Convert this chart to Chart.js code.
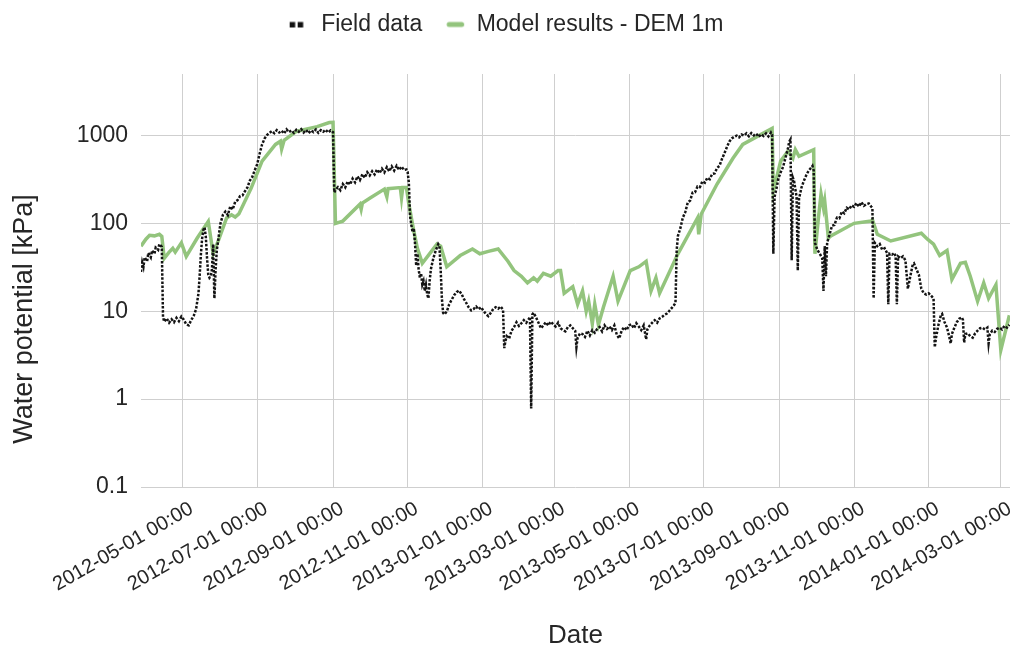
<!DOCTYPE html>
<html>
<head>
<meta charset="utf-8">
<script src="https://cdn.jsdelivr.net/npm/chart.js@4.4.1/dist/chart.umd.min.js"></script>
<style>
  html, body { margin: 0; padding: 0; background: #ffffff; }
  #c { display: block; }
</style>
</head>
<body>
<canvas id="c" width="1010" height="651"></canvas>
<script>
// ---- Measured soil water potential (kPa), [date, value] ----
const field2012 = [
  ["2012-03-28",28],["2012-03-29",36],["2012-03-30",32],["2012-03-31",41],["2012-04-02",37],["2012-04-03",46],
  ["2012-04-05",41],["2012-04-06",49],["2012-04-08",45],["2012-04-09",53],["2012-04-11",50],["2012-04-12",58],
  ["2012-04-14",54],["2012-04-15",8.6],["2012-04-16",7.6],["2012-04-18",8.3],["2012-04-20",7.4],["2012-04-22",8.1],
  ["2012-04-24",7.5],["2012-04-26",8.4],["2012-04-28",7.7],["2012-04-30",8.7],["2012-05-02",8.0],["2012-05-04",7.1],
  ["2012-05-06",6.9],["2012-05-08",7.9],["2012-05-10",8.8],["2012-05-12",10.5],["2012-05-14",16],["2012-05-15",26],
  ["2012-05-16",45],["2012-05-17",68],["2012-05-18",84],["2012-05-19",90],["2012-05-20",70],["2012-05-21",40],
  ["2012-05-22",26],["2012-05-23",24],["2012-05-24",25],["2012-05-25",30],["2012-05-26",58],["2012-05-27",14],
  ["2012-05-28",30],["2012-05-29",50],["2012-05-30",62],["2012-05-31",80],["2012-06-01",100],["2012-06-03",125],
  ["2012-06-05",136],["2012-06-07",124],["2012-06-09",156],["2012-06-11",144],["2012-06-13",176],["2012-06-15",184],
  ["2012-06-17",204],["2012-06-19",208],["2012-06-21",232],["2012-06-23",256],["2012-06-25",306],["2012-06-27",338],
  ["2012-06-29",402],["2012-07-01",470],["2012-07-03",620],["2012-07-05",790],["2012-07-07",920],["2012-07-09",1010],
  ["2012-07-11",1070],["2012-07-13",1120],["2012-07-15",1060],["2012-07-17",1150],["2012-07-19",1080],["2012-07-21",1130],
  ["2012-07-23",1050],["2012-07-25",1170],["2012-07-27",1090],["2012-07-29",1140],["2012-07-31",1070],["2012-08-02",1160],
  ["2012-08-04",1100],["2012-08-06",1180],["2012-08-08",1080],["2012-08-10",1150],["2012-08-12",1060],["2012-08-14",1140],
  ["2012-08-16",1090],["2012-08-18",1170],["2012-08-20",1070],["2012-08-22",1150],["2012-08-24",1100],["2012-08-26",1160],
  ["2012-08-28",1080],["2012-08-30",1140],["2012-09-01",1090],["2012-09-02",225],["2012-09-03",240],["2012-09-05",258],
  ["2012-09-07",238],["2012-09-09",280],["2012-09-11",256],["2012-09-13",300],["2012-09-15",276],["2012-09-17",322],
  ["2012-09-19",292],["2012-09-21",342],["2012-09-23",310],["2012-09-25",362],["2012-09-27",330],["2012-09-29",382],
  ["2012-10-01",350],["2012-10-03",392],["2012-10-05",360],["2012-10-07",410],["2012-10-09",372],["2012-10-11",418],
  ["2012-10-13",380],["2012-10-15",435],["2012-10-17",390],["2012-10-19",445],["2012-10-21",398],["2012-10-23",452],
  ["2012-10-25",405],["2012-10-27",442],["2012-10-29",404],["2012-10-31",410],["2012-11-01",385],["2012-11-02",290],
  ["2012-11-03",120],["2012-11-04",96],["2012-11-05",80],["2012-11-06",88],["2012-11-07",60],["2012-11-08",33],
  ["2012-11-09",45],["2012-11-10",30],["2012-11-11",24],["2012-11-12",27],["2012-11-13",20],["2012-11-14",22],
  ["2012-11-15",17],["2012-11-16",20],["2012-11-17",15.5],["2012-11-18",14],["2012-11-19",22],["2012-11-20",30],
  ["2012-11-22",40],["2012-11-24",49],["2012-11-26",58],["2012-11-27",55],["2012-11-28",30],["2012-11-29",14],
  ["2012-11-30",9.6],["2012-12-01",9.2],["2012-12-03",9.9],["2012-12-05",12],["2012-12-07",13.5],["2012-12-09",15.2],
  ["2012-12-11",16.5],["2012-12-13",17.2],["2012-12-15",15.8],["2012-12-17",13.8],["2012-12-19",12.4],["2012-12-21",11],
  ["2012-12-23",10.2],["2012-12-25",10.6],["2012-12-27",11.3],["2012-12-29",10.5],["2012-12-31",11.1]
];
const field2013 = [
  ["2013-01-02",10.1],["2013-01-04",9.3],["2013-01-06",8.8],["2013-01-08",9.6],["2013-01-10",10.6],["2013-01-12",11.1],
  ["2013-01-14",10.7],["2013-01-16",11.3],["2013-01-18",10.4],["2013-01-19",3.8],["2013-01-20",4.6],["2013-01-21",5.2],
  ["2013-01-23",4.9],["2013-01-25",6.0],["2013-01-27",6.6],["2013-01-29",7.5],["2013-01-31",6.8],["2013-02-02",7.3],
  ["2013-02-04",7.9],["2013-02-06",7.4],["2013-02-08",8.1],["2013-02-09",8.6],["2013-02-10",0.78],["2013-02-11",9.2],
  ["2013-02-12",9.6],["2013-02-14",8.5],["2013-02-16",7.4],["2013-02-18",6.4],["2013-02-20",6.9],["2013-02-22",7.5],
  ["2013-02-24",6.9],["2013-02-26",7.6],["2013-02-28",7.1],["2013-03-02",6.7],["2013-03-04",7.4],["2013-03-06",6.4],
  ["2013-03-08",6.1],["2013-03-10",5.9],["2013-03-12",6.6],["2013-03-14",6.9],["2013-03-16",6.4],["2013-03-18",6.0],
  ["2013-03-19",3.9],["2013-03-20",5.0],["2013-03-22",5.6],["2013-03-24",5.5],["2013-03-26",5.1],["2013-03-28",6.0],
  ["2013-03-30",5.3],["2013-04-01",6.1],["2013-04-03",5.7],["2013-04-05",6.3],["2013-04-07",6.6],["2013-04-09",5.9],
  ["2013-04-11",6.9],["2013-04-13",6.3],["2013-04-15",6.7],["2013-04-17",6.1],["2013-04-19",6.9],["2013-04-21",5.4],
  ["2013-04-23",4.9],["2013-04-25",6.0],["2013-04-27",6.6],["2013-04-29",6.1],["2013-05-01",6.9],["2013-05-03",7.1],
  ["2013-05-05",6.4],["2013-05-07",7.3],["2013-05-09",6.7],["2013-05-11",6.1],["2013-05-13",6.9],["2013-05-15",4.8],
  ["2013-05-16",6.2],["2013-05-18",6.9],["2013-05-20",7.4],["2013-05-22",7.9],["2013-05-24",7.4],["2013-05-26",8.3],
  ["2013-05-28",8.6],["2013-05-30",9.1],["2013-06-01",9.4],["2013-06-03",10.1],["2013-06-05",10.9],["2013-06-07",11.8],
  ["2013-06-08",12.5],["2013-06-09",50],["2013-06-10",72],["2013-06-12",88],["2013-06-14",116],["2013-06-16",134],
  ["2013-06-18",172],["2013-06-20",182],["2013-06-22",224],["2013-06-24",226],["2013-06-26",262],["2013-06-28",258],
  ["2013-06-30",300],["2013-07-02",290],["2013-07-04",330],["2013-07-06",318],["2013-07-08",364],["2013-07-10",370],
  ["2013-07-12",426],["2013-07-14",452],["2013-07-16",540],["2013-07-18",625],["2013-07-20",735],["2013-07-22",850],
  ["2013-07-24",925],["2013-07-26",965],["2013-07-28",995],["2013-07-30",950],["2013-08-01",1025],["2013-08-03",995],
  ["2013-08-05",1055],["2013-08-07",980],["2013-08-09",1065],["2013-08-11",1000],["2013-08-13",1045],["2013-08-15",965],
  ["2013-08-17",1030],["2013-08-19",985],["2013-08-21",1055],["2013-08-23",975],["2013-08-25",1080],["2013-08-26",1020],
  ["2013-08-27",45],["2013-08-28",200],["2013-08-30",265],["2013-08-31",320],["2013-09-02",380],["2013-09-04",440],
  ["2013-09-06",560],["2013-09-08",720],["2013-09-09",850],["2013-09-10",900],["2013-09-11",38],["2013-09-12",330],
  ["2013-09-13",300],["2013-09-15",200],["2013-09-16",29],["2013-09-17",190],["2013-09-19",255],["2013-09-21",305],
  ["2013-09-23",355],["2013-09-25",400],["2013-09-27",430],["2013-09-28",450],["2013-09-29",400],["2013-09-30",60],
  ["2013-10-02",50],["2013-10-04",45],["2013-10-06",40],["2013-10-07",17],["2013-10-08",55],["2013-10-09",25],
  ["2013-10-10",60],["2013-10-12",75],["2013-10-14",94],["2013-10-16",96],["2013-10-18",116],["2013-10-20",114],
  ["2013-10-22",136],["2013-10-24",130],["2013-10-26",150],["2013-10-28",144],["2013-10-30",160],["2013-11-01",154],
  ["2013-11-03",170],["2013-11-05",155],["2013-11-07",174],["2013-11-09",158],["2013-11-11",165],["2013-11-13",168],
  ["2013-11-15",155],["2013-11-16",150],["2013-11-17",14],["2013-11-18",60],["2013-11-20",55],["2013-11-22",58],
  ["2013-11-24",50],["2013-11-26",52],["2013-11-28",46],["2013-11-29",12],["2013-11-30",45],["2013-12-02",44],
  ["2013-12-04",46],["2013-12-05",42],["2013-12-06",12],["2013-12-07",42],["2013-12-09",40],["2013-12-11",42],
  ["2013-12-13",38],["2013-12-15",18],["2013-12-17",25],["2013-12-19",34],["2013-12-20",35],["2013-12-22",30],
  ["2013-12-24",26],["2013-12-26",18],["2013-12-28",16],["2013-12-30",15.5]
];
const field2014 = [
  ["2014-01-01",16],["2014-01-03",15],["2014-01-05",14],["2014-01-06",3.9],["2014-01-07",5],["2014-01-09",7],
  ["2014-01-11",9],["2014-01-12",9.3],["2014-01-14",7.5],["2014-01-16",6.5],["2014-01-18",5.0],["2014-01-19",4.3],
  ["2014-01-20",5.5],["2014-01-22",6.5],["2014-01-24",7.5],["2014-01-26",8.2],["2014-01-28",8.5],["2014-01-29",8.0],
  ["2014-01-30",4.4],["2014-01-31",5.5],["2014-02-02",5.6],["2014-02-04",5.2],["2014-02-06",5.0],["2014-02-08",5.6],
  ["2014-02-10",6.0],["2014-02-12",6.4],["2014-02-14",6.5],["2014-02-16",6.2],["2014-02-18",6.5],["2014-02-19",4.3],
  ["2014-02-20",5.5],["2014-02-22",6.0],["2014-02-24",5.8],["2014-02-26",6.3],["2014-02-28",6.5],["2014-03-02",6.2],
  ["2014-03-04",6.8],["2014-03-06",6.5],["2014-03-08",7.0]
];

// ---- Simulated water potential, DEM 1 m (kPa), [date, value] ----
const model2012 = [
  ["2012-03-28",55],["2012-04-01",66],["2012-04-04",73],["2012-04-08",72],["2012-04-12",75],["2012-04-14",71],
  ["2012-04-16",40],["2012-04-20",47],["2012-04-23",52],["2012-04-25",47],["2012-04-30",60],["2012-05-04",42],
  ["2012-05-13",68],["2012-05-22",105],["2012-05-26",45],["2012-05-31",68],["2012-06-06",115],["2012-06-10",125],
  ["2012-06-13",118],["2012-06-16",128],["2012-06-26",250],["2012-07-05",510],["2012-07-16",790],["2012-07-20",860],
  ["2012-07-21",700],["2012-07-23",880],["2012-08-02",1110],["2012-08-19",1260],["2012-08-29",1400],["2012-09-01",1410],
  ["2012-09-03",100],["2012-09-09",106],["2012-09-23",165],["2012-09-24",145],["2012-09-25",170],["2012-10-01",193],
  ["2012-10-13",245],["2012-10-15",200],["2012-10-16",248],["2012-10-26",255],["2012-10-27",195],["2012-10-28",255],
  ["2012-10-31",255],["2012-11-02",165],["2012-11-06",82],["2012-11-09",52],["2012-11-13",35],["2012-11-25",58],
  ["2012-11-28",55],["2012-12-03",32],["2012-12-14",43],["2012-12-24",51],["2012-12-30",45]
];
const model2013 = [
  ["2013-01-06",48],["2013-01-14",51],["2013-01-22",37],["2013-01-27",29],["2013-02-02",25],["2013-02-07",21],
  ["2013-02-12",24],["2013-02-15",22],["2013-02-20",27],["2013-02-26",25],["2013-03-04",29],["2013-03-06",29],
  ["2013-03-09",16],["2013-03-16",19],["2013-03-20",12],["2013-03-24",17],["2013-03-27",10],["2013-03-29",13],
  ["2013-04-01",7.2],["2013-04-03",12],["2013-04-06",7],["2013-04-10",11],["2013-04-18",25],["2013-04-22",13],
  ["2013-05-02",29],["2013-05-09",32],["2013-05-15",37],["2013-05-19",17],["2013-05-23",24],["2013-05-26",16],
  ["2013-06-10",45],["2013-06-26",115],["2013-06-27",75],["2013-06-29",127],["2013-07-12",280],["2013-07-25",550],
  ["2013-08-02",790],["2013-08-14",975],["2013-08-26",1200],["2013-08-27",232],["2013-09-02",510],["2013-09-08",660],
  ["2013-09-12",550],["2013-09-14",690],["2013-09-17",580],["2013-09-29",690],["2013-09-30",45],["2013-10-03",120],
  ["2013-10-05",215],["2013-10-07",150],["2013-10-08",180],["2013-10-11",68],["2013-10-13",72],["2013-11-01",100],
  ["2013-11-15",106],["2013-11-16",110],["2013-11-20",75],["2013-12-01",63],["2013-12-26",77],["2013-12-31",66]
];
const model2014 = [
  ["2014-01-05",58],["2014-01-10",43],["2014-01-16",49],["2014-01-20",23],["2014-01-27",35],["2014-01-31",36],
  ["2014-02-04",25],["2014-02-10",13],["2014-02-15",21],["2014-02-19",14],["2014-02-25",20],["2014-03-01",3.6],
  ["2014-03-08",9]
];

// ---- Axis ticks ----
const dateTicks = [
  "2012-05-01","2012-07-01","2012-09-01","2012-11-01","2013-01-01","2013-03-01",
  "2013-05-01","2013-07-01","2013-09-01","2013-11-01","2014-01-01","2014-03-01"
];
const kPaTicks = [0.1, 1, 10, 100, 1000];

const seriesNames = ["Field data", "Model results - DEM 1m"];
const FONT = '"Liberation Sans", Arial, Helvetica, sans-serif';
const TEXT = '#262626';
const GRID = '#cfcfcf';
const GREEN = '#93c47d';

const toMs = d => Date.parse(d + 'T00:00:00Z');
const toPoints = rows => rows.map(([d, v]) => ({ x: toMs(d), y: v }));
const pad2 = n => String(n).padStart(2, '0');
const fmtDate = ms => {
  const t = new Date(ms);
  return t.getUTCFullYear() + '-' + pad2(t.getUTCMonth() + 1) + '-' + pad2(t.getUTCDate()) + ' 00:00';
};

// legend swatches
function swatch(draw) {
  const c = document.createElement('canvas');
  c.width = 37; c.height = 12;
  draw(c.getContext('2d'));
  return c;
}
const fieldSwatch = swatch(g => {
  g.fillStyle = '#111';
  g.fillRect(17, 3.5, 5.5, 5.5);
  g.fillRect(25, 3.5, 5.5, 5.5);
});
const modelSwatch = swatch(g => {
  g.strokeStyle = GREEN; g.lineWidth = 5; g.lineCap = 'round';
  g.beginPath(); g.moveTo(21, 6); g.lineTo(33.5, 6); g.stroke();
});

// extra room under the legend, and a slight leftward nudge of the legend row
const legendGap = {
  id: 'legendGap',
  beforeUpdate(chart) {
    const lg = chart.legend;
    if (lg && !lg._gapPatched) {
      const fit = lg.fit;
      lg.fit = function () {
        fit.call(this);
        this.height += 28;
        if (this.lineWidths && this.lineWidths.length) this.lineWidths[0] += 14;
      };
      lg._gapPatched = true;
    }
  }
};

// vertical axis title
const yTitle = {
  id: 'yTitle',
  afterDraw(chart) {
    const ctx = chart.ctx;
    ctx.save();
    ctx.translate(25, 319);
    ctx.rotate(-Math.PI / 2);
    ctx.font = '27px ' + FONT;
    ctx.fillStyle = TEXT;
    ctx.textAlign = 'center';
    ctx.textBaseline = 'middle';
    ctx.fillText('Water potential [kPa]', 0, 0);
    ctx.restore();
  }
};

new Chart(document.getElementById('c'), {
  type: 'line',
  data: {
    datasets: [
      {
        label: seriesNames[0],
        data: toPoints([...field2012, ...field2013, ...field2014]),
        borderColor: '#141414',
        backgroundColor: '#141414',
        borderWidth: 2.5,
        borderDash: [2.5, 1.6],
        pointRadius: 0,
        tension: 0,
        fill: false
      },
      {
        label: seriesNames[1],
        data: toPoints([...model2012, ...model2013, ...model2014]),
        borderColor: GREEN,
        backgroundColor: GREEN,
        borderWidth: 3.5,
        pointRadius: 0,
        tension: 0,
        fill: false
      }
    ]
  },
  options: {
    responsive: false,
    animation: false,
    devicePixelRatio: 1,
    layout: { padding: { top: 7, left: 0, right: 0, bottom: 0 } },
    plugins: {
      tooltip: { enabled: false },
      legend: {
        position: 'top',
        align: 'center',
        labels: {
          usePointStyle: true,
          pointStyleWidth: 37,
          padding: 6,
          color: TEXT,
          font: { family: FONT, size: 23 },
          generateLabels(chart) {
            const items = Chart.defaults.plugins.legend.labels.generateLabels(chart);
            items[0].pointStyle = fieldSwatch;
            items[1].pointStyle = modelSwatch;
            return items;
          }
        }
      }
    },
    scales: {
      x: {
        type: 'linear',
        min: toMs('2012-03-28'),
        max: toMs('2014-03-08') + 12 * 3600 * 1000,
        afterBuildTicks(s) { s.ticks = dateTicks.map(d => ({ value: toMs(d) })); },
        afterFit(s) { s.height = 164; s.paddingLeft = 0; s.paddingRight = 0; },
        ticks: {
          autoSkip: false,
          minRotation: 30,
          maxRotation: 30,
          padding: 10,
          labelOffset: 9,
          color: TEXT,
          font: { family: FONT, size: 20 },
          callback: v => fmtDate(v)
        },
        grid: { color: GRID, lineWidth: 1, drawTicks: false },
        border: { display: false },
        title: {
          display: true,
          text: 'Date',
          color: TEXT,
          font: { family: FONT, size: 26 },
          padding: { top: 0, bottom: 0 }
        }
      },
      y: {
        type: 'logarithmic',
        min: 0.1,
        max: 5000,
        afterBuildTicks(s) { s.ticks = kPaTicks.map(v => ({ value: v })); },
        afterFit(s) { s.width = 141; },
        ticks: {
          padding: 13,
          color: TEXT,
          font: { family: FONT, size: 23 },
          callback: v => String(v)
        },
        grid: { color: GRID, lineWidth: 1, drawTicks: false },
        border: { display: false }
      }
    }
  },
  plugins: [legendGap, yTitle]
});
</script>
</body>
</html>
